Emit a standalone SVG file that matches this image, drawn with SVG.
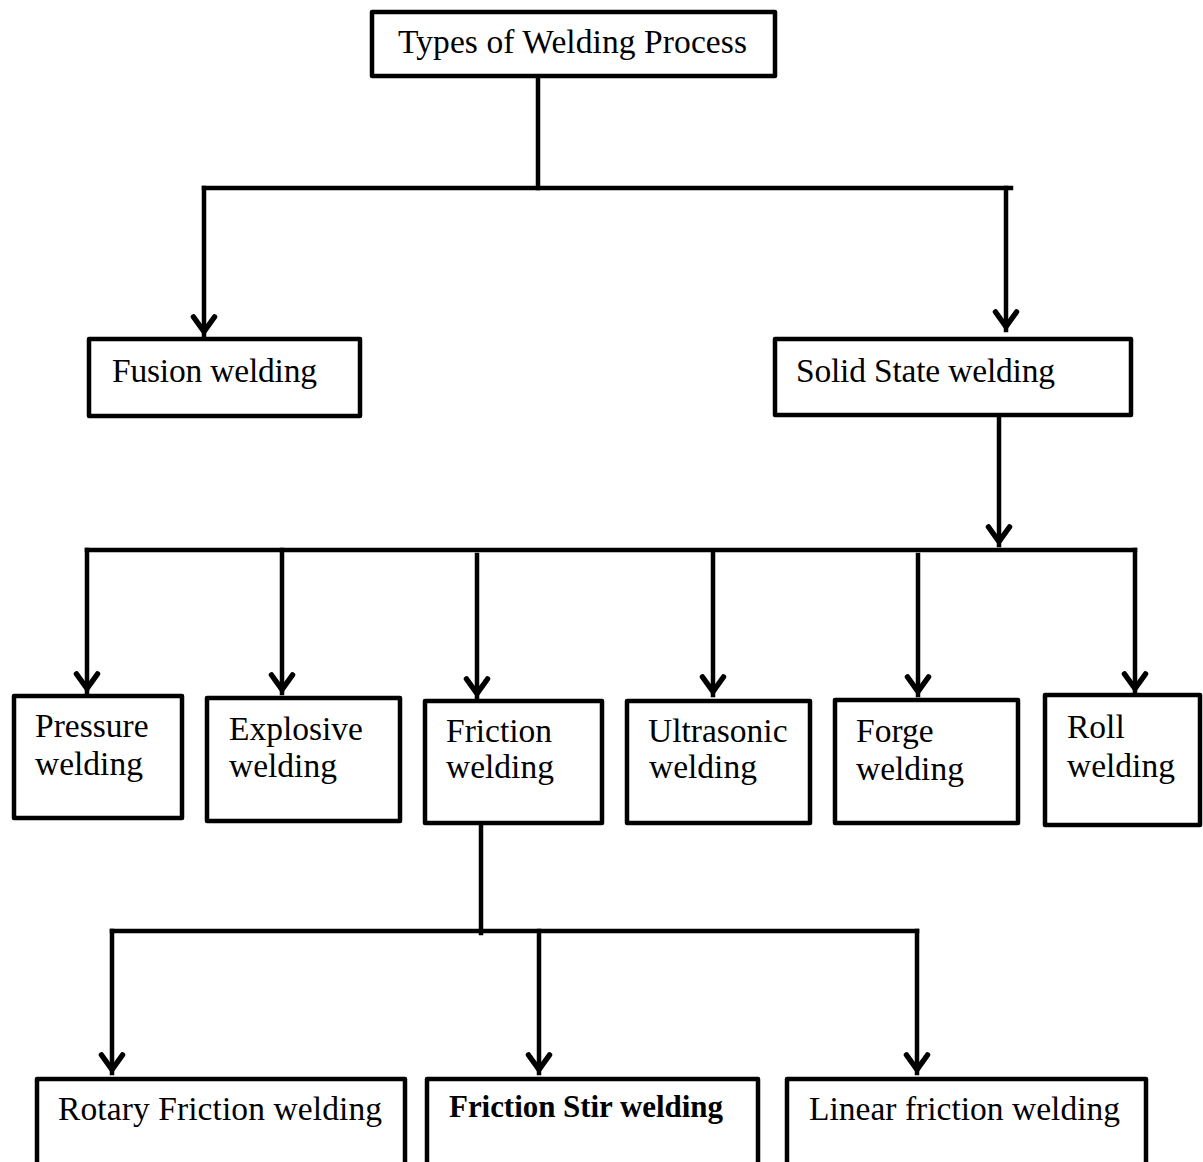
<svg xmlns="http://www.w3.org/2000/svg" width="1203" height="1162" viewBox="0 0 1203 1162">
<style>
  .box { fill: #fff; stroke: #000; stroke-width: 4.5; stroke-linejoin: round; }
  .lbl { font-family: "Liberation Serif", "Times New Roman", serif; font-size: 33.5px; fill: #000; }
  .bold { font-weight: bold; font-size: 31px; }
  .ln { fill: none; stroke: #000; stroke-width: 4.5; stroke-linecap: square; }
  .arr { marker-end: url(#arrow); }
</style>
<defs>
  <marker id="arrow" markerUnits="userSpaceOnUse" viewBox="-24 -16 30 32" refX="0" refY="0" markerWidth="30" markerHeight="32" orient="auto" overflow="visible">
    <path d="M-18,-10.5 L-3.5,0 L-18,10.5" fill="none" stroke="#000" stroke-width="5.5" stroke-linejoin="miter" stroke-linecap="round"/>
  </marker>
</defs>
<rect width="1203" height="1162" fill="#fff"/>
<g id="connectors">
  <path class="ln" d="M538,78 V188"/>
  <path class="ln" d="M204,188 H1011"/>
  <path class="ln arr" d="M204,188 V335"/>
  <path class="ln arr" d="M1006,188 V330"/>
  <path class="ln arr" d="M999,405 V545"/>
  <path class="ln" d="M87,550 H1135"/>
  <path class="ln arr" d="M87,550 V692"/>
  <path class="ln arr" d="M282,550 V693"/>
  <path class="ln arr" d="M477,555 V697"/>
  <path class="ln arr" d="M713,553 V695"/>
  <path class="ln arr" d="M918,555 V695"/>
  <path class="ln arr" d="M1135,550 V692"/>
  <path class="ln" d="M481,825 V933"/>
  <path class="ln" d="M112,931 H917"/>
  <path class="ln arr" d="M112,931 V1073"/>
  <path class="ln arr" d="M539,931 V1073"/>
  <path class="ln arr" d="M917,931 V1073"/>
</g>
<g id="types">
  <rect class="box" x="372" y="12" width="403" height="64"/>
  <text class="lbl" x="398" y="53" textLength="349">Types of Welding Process</text>
</g>
<g id="fusion">
  <rect class="box" x="89" y="339" width="271" height="77"/>
  <text class="lbl" x="112" y="382" textLength="205">Fusion welding</text>
</g>
<g id="solid">
  <rect class="box" x="775" y="339" width="356" height="76"/>
  <text class="lbl" x="796" y="382" textLength="259">Solid State welding</text>
</g>
<g id="pressure">
  <rect class="box" x="14" y="696" width="168" height="122"/>
  <text class="lbl" x="35" y="737">Pressure</text>
  <text class="lbl" x="35" y="775">welding</text>
</g>
<g id="explosive">
  <rect class="box" x="207" y="698" width="193" height="123"/>
  <text class="lbl" x="229" y="740">Explosive</text>
  <text class="lbl" x="229" y="777">welding</text>
</g>
<g id="friction">
  <rect class="box" x="425" y="701" width="177" height="122"/>
  <text class="lbl" x="446" y="742">Friction</text>
  <text class="lbl" x="446" y="778">welding</text>
</g>
<g id="ultrasonic">
  <rect class="box" x="627" y="701" width="183" height="122"/>
  <text class="lbl" x="648" y="742">Ultrasonic</text>
  <text class="lbl" x="649" y="778">welding</text>
</g>
<g id="forge">
  <rect class="box" x="835" y="700" width="183" height="123"/>
  <text class="lbl" x="856" y="742">Forge</text>
  <text class="lbl" x="856" y="780">welding</text>
</g>
<g id="roll">
  <rect class="box" x="1045" y="695" width="155" height="130"/>
  <text class="lbl" x="1067" y="738">Roll</text>
  <text class="lbl" x="1067" y="777">welding</text>
</g>
<g id="rotary">
  <rect class="box" x="37" y="1079" width="368" height="110"/>
  <text class="lbl" x="58" y="1120" textLength="324">Rotary Friction welding</text>
</g>
<g id="fsw">
  <rect class="box" x="427" y="1079" width="331" height="110"/>
  <text class="lbl bold" x="449" y="1117" textLength="274">Friction Stir welding</text>
</g>
<g id="linear">
  <rect class="box" x="787" y="1079" width="359" height="110"/>
  <text class="lbl" x="809" y="1120" textLength="311">Linear friction welding</text>
</g>
</svg>
